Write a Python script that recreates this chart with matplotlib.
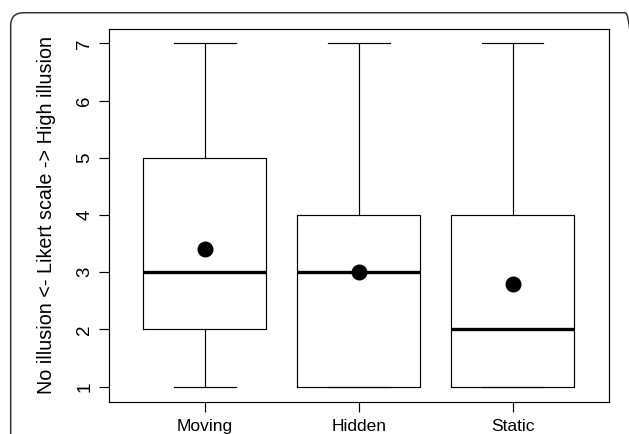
import matplotlib
matplotlib.use("Agg")
import matplotlib.pyplot as plt
from matplotlib.patches import FancyBboxPatch
from matplotlib.transforms import IdentityTransform

# ---- data ----
conditions = ["Moving", "Hidden", "Static"]
whisker_low = [1, 1, 1]
q1 = [2, 1, 1]
medians = [3, 3, 2]
q3 = [5, 4, 4]
whisker_high = [7, 7, 7]
means = [3.4, 3.0, 2.8]
y_ticks = [1, 2, 3, 4, 5, 6, 7]

plt.rcParams["font.family"] = ["Liberation Sans", "DejaVu Sans"]

fig = plt.figure(figsize=(6.29, 4.34), dpi=100)
ax = fig.add_axes([109 / 629, 32 / 434, 500 / 629, 373 / 434])

stats = []
for i, name in enumerate(conditions):
    stats.append({
        "label": name,
        "whislo": whisker_low[i],
        "q1": q1[i],
        "med": medians[i],
        "q3": q3[i],
        "whishi": whisker_high[i],
        "mean": means[i],
        "fliers": [],
    })

positions = list(range(1, len(conditions) + 1))
lw = 0.85
ax.bxp(
    stats, positions=positions, widths=0.8, capwidths=0.4,
    showmeans=True, showfliers=False,
    boxprops=dict(color="black", linewidth=lw),
    whiskerprops=dict(color="black", linewidth=lw),
    capprops=dict(color="black", linewidth=lw),
    medianprops=dict(color="black", linewidth=2.4, solid_capstyle="butt"),
    meanprops=dict(marker="o", markerfacecolor="black", markeredgecolor="black", markersize=10.5),
)

ax.set_xlim(0.376, 3.627)
ax.set_ylim(0.733, 7.25)
ax.set_xticks(positions)
ax.set_xticklabels(conditions, fontsize=12.5)
ax.set_yticks(y_ticks)
ax.set_yticklabels([str(v) for v in y_ticks], fontsize=13.5, rotation=90, va="center")
ax.tick_params(direction="out", length=7.2, width=lw, color="black")
ax.tick_params(axis="y", pad=4)
ax.tick_params(axis="x", pad=5)
for sp in ax.spines.values():
    sp.set_linewidth(lw)
ax.set_ylabel("No illusion <- Likert scale -> High illusion", fontsize=14.2, labelpad=15)

# rounded outer frame of the figure panel (pixel coordinates);
# only its left side, top edge and the start of the top-right corner are in view
frame = FancyBboxPatch((10.7, -30), 627.5, 434 - 12.7 + 30,
                       boxstyle="round,pad=0,rounding_size=13",
                       transform=IdentityTransform(), fill=False,
                       edgecolor="#333333", linewidth=1.1, clip_on=False)
fig.patches.append(frame)

fig.savefig("out.png", dpi=100)
